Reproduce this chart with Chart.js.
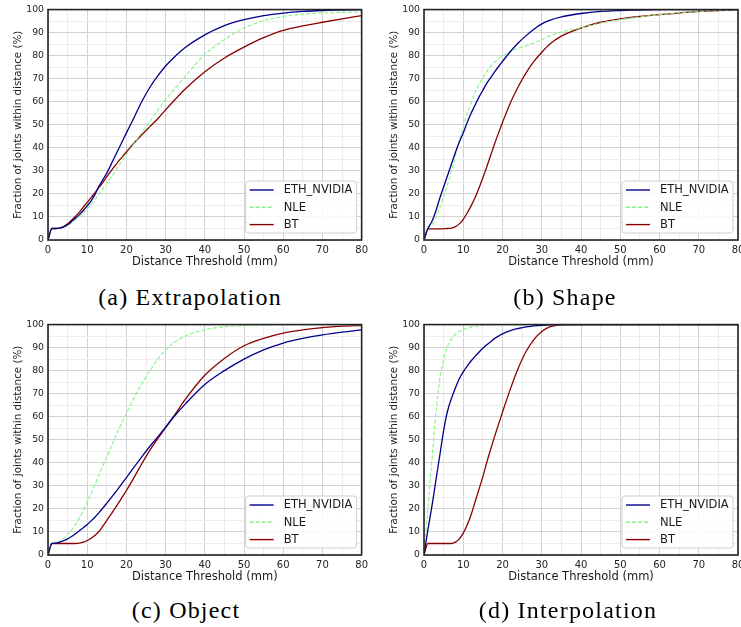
<!DOCTYPE html>
<html>
<head>
<meta charset="utf-8">
<script src="https://cdn.jsdelivr.net/npm/chart.js@4.4.1/dist/chart.umd.min.js"></script>
<style>
  html, body { margin: 0; padding: 0; width: 741px; height: 627px; overflow: hidden; background: #fff; }
  canvas { position: absolute; }
  .cap { position: absolute; font-family: "Liberation Serif", serif; font-size: 24px; line-height: 24px;
         letter-spacing: 1.2px; white-space: nowrap; transform: translateX(-50%); color: #000; }
</style>
</head>
<body>
<canvas id="cA" width="372" height="280" style="left:0;top:0"></canvas>
<canvas id="cB" width="380" height="280" style="left:370px;top:0"></canvas>
<canvas id="cC" width="372" height="280" style="left:0;top:315px"></canvas>
<canvas id="cD" width="380" height="280" style="left:370px;top:315px"></canvas>
<div class="cap" style="left:190px;top:285px">(a) Extrapolation</div>
<div class="cap" style="left:565px;top:285px">(b) Shape</div>
<div class="cap" style="left:186px;top:598px">(c) Object</div>
<div class="cap" style="left:568px;top:598px">(d) Interpolation</div>
<script>
// distance thresholds (mm) shared by every curve
const distances = [0,1,2,3,4,5,6,7,8,9,10,11,12,13,14,15,16,17,18,19,20,22,24,26,28,30,32,35,40,45,50,55,60,65,70,75,80];

// (a) Extrapolation
const ethExtrap = [0,5,5,5.2,5.7,6.6,8,9.5,11,12.8,14.8,17,19.8,23.3,26.2,29,32.5,36,39.5,43,46.5,53.3,60.3,66.3,71.2,75.5,79,83.5,89,93,95.6,97.4,98.5,99.2,99.6,99.8,100];
const nleExtrap = [0,5,5,5.2,5.6,6.4,7.5,8.8,10.2,11.8,13.5,15.5,17.6,19.8,22.2,24.6,27,29.5,32,34.5,37,42,46.8,51.5,56.3,61,65,71,80.5,87,92,95.2,97,98,98.5,98.8,99];
const btExtrap  = [0,5,5,5.2,5.8,7,8.6,10.3,12.1,14.2,16.3,18.4,20.6,22.8,25,27.5,29.8,32,34.2,36.2,38.2,42.2,45.8,49.2,52.6,56.5,60.2,65.5,73,79,83.7,87.8,91,92.9,94.5,96,97.4];

// (b) Shape
const ethShape = [0,5,8,12.5,18,23,28,33,38,42.5,46.5,51,55,58.5,62,65,68,70.5,73,75.3,77.5,81.8,85.5,88.7,91.5,93.8,95.3,96.8,98.3,99.2,99.6,99.8,100,100,100,100,100];
const nleShape = [0,5,6.5,9.5,14,19,24,30,36.5,43,49,55,59.5,64,67.5,70.5,73.2,75.5,77.2,78.7,80,81.8,83.2,84.3,85.5,87,88.5,90.3,92,94.2,95.6,96.8,97.8,98.6,99.2,99.6,100];
const btShape  = [0,4.8,4.8,4.8,4.8,4.9,5,5.2,5.8,7,9,11.7,14.8,18.3,22.5,27,31.8,36.8,41.8,46.5,51,59.5,66.5,72.5,77.5,81.5,85,88.5,92,94.5,96,97,97.8,98.5,99.2,99.6,100];

// (c) Object
const ethObject = [0,5,5.2,5.6,6.2,7,8,9.2,10.5,11.8,13.2,14.8,16.5,18.4,20.4,22.5,24.6,26.8,29,31.3,33.6,38.2,42.8,47.2,51.3,55.5,59.8,65.5,74,80,85,89,92,94,95.5,96.7,97.7];
const nleObject = [0,5,5.3,6,7.2,8.8,10.8,13.2,16,19.3,23,26.8,30.7,34.7,38.8,42.5,46.5,50.5,54.5,58,61.5,68.5,74.5,80,85,89,92,95,97.8,99,99.6,99.8,100,100,100,100,100];
const btObject  = [0,5,5,5,5,5,5,5,5.2,5.6,6.3,7.3,8.6,10.2,12.5,15,17.5,20,22.6,25.3,28,33.8,39.8,45.5,50.5,55.3,60,67.5,78,85.3,90.8,94,96.3,97.7,98.7,99.3,99.6];

// (d) Interpolation
const ethInterp = [0,11,21,32,43,54,62.5,68,72.5,76.5,79.5,82,84.2,86.2,88,89.7,91.2,92.6,94,95,96,97.4,98.3,99,99.4,99.7,99.9,100,100,100,100,100,100,100,100,100,100];
const nleInterp = [0,20,41,61,76,85,90.5,93.8,95.8,97,97.8,98.4,98.9,99.2,99.5,99.7,99.8,99.9,100,100,100,100,100,100,100,100,100,100,100,100,100,100,100,100,100,100,100];
const btInterp  = [0,5,5,5,5,5,5,5,5.6,7,9.5,13,17.5,23,28.5,34,40.2,46,51.5,56.8,62,72,81,88.3,93.5,97,99,99.9,100,100,100,100,100,100,100,100,100];

const seriesNames = ['ETH_NVIDIA', 'NLE', 'BT'];
const seriesColors = ['#00008b', '#86f386', '#8b0000'];
const seriesDash = [[], [4, 2], []];

const FONT = '"DejaVu Sans", sans-serif';

// frame around the plot area + matplotlib-like legend box
const framePlugin = {
  id: 'frame',
  afterDatasetsDraw(chart) {
    const { ctx, chartArea: a } = chart;
    ctx.save();
    ctx.strokeStyle = '#222';
    ctx.lineWidth = 1.6;
    ctx.strokeRect(a.left, a.top, a.right - a.left, a.bottom - a.top);

    const w = 111, h = 52;
    const x = a.right - 5 - w, y = a.bottom - 7 - h;
    ctx.beginPath();
    ctx.roundRect(x, y, w, h, 3);
    ctx.fillStyle = 'rgba(255,255,255,0.85)';
    ctx.fill();
    ctx.strokeStyle = '#d0d0d0';
    ctx.lineWidth = 1;
    ctx.stroke();

    ctx.font = '11.5px ' + FONT;
    ctx.textBaseline = 'middle';
    chart.data.datasets.forEach((ds, i) => {
      const yy = y + 9 + i * 17.3;
      ctx.beginPath();
      ctx.setLineDash(ds.borderDash || []);
      ctx.strokeStyle = ds.borderColor;
      ctx.lineWidth = 1.4;
      ctx.moveTo(x + 4, yy);
      ctx.lineTo(x + 28, yy);
      ctx.stroke();
      ctx.setLineDash([]);
      ctx.fillStyle = '#1a1a1a';
      ctx.fillText(ds.label, x + 38, yy + 0.5);
    });
    ctx.restore();
  }
};

function gridColor(c) {
  return c.tick && c.tick.value % 10 === 0 ? '#d2d2d2' : '#ececec';
}

function makeChart(id, values, padLeft, padRight) {
  const datasets = values.map((vals, i) => ({
    label: seriesNames[i],
    data: distances.map((d, j) => ({ x: d, y: vals[j] })),
    borderColor: seriesColors[i],
    borderDash: seriesDash[i],
    borderWidth: i === 1 ? 1.1 : 1.3,
    pointRadius: 0,
    cubicInterpolationMode: 'monotone',
    fill: false
  }));
  new Chart(document.getElementById(id), {
    type: 'line',
    data: { datasets },
    options: {
      responsive: false,
      animation: false,
      devicePixelRatio: 1,
      layout: { padding: { left: padLeft, top: 8, right: padRight, bottom: 0 } },
      plugins: { legend: { display: false }, tooltip: { enabled: false } },
      scales: {
        x: {
          type: 'linear', min: 0, max: 80,
          afterFit: s => { s.height = 40; },
          border: { display: false },
          grid: { color: gridColor, lineWidth: 1, drawTicks: false },
          ticks: {
            stepSize: 5, padding: 4, color: '#222', maxRotation: 0, autoSkip: false,
            font: { family: FONT, size: 10 },
            callback: v => (v % 10 === 0 ? v : '')
          },
          title: {
            display: true, text: 'Distance Threshold (mm)', color: '#1a1a1a',
            font: { family: FONT, size: 11.5 }, padding: { top: 0, bottom: 11.5 }
          }
        },
        y: {
          min: 0, max: 100,
          afterFit: s => { s.width = 48; },
          border: { display: false },
          grid: { color: gridColor, lineWidth: 1, drawTicks: false },
          ticks: {
            stepSize: 5, padding: 4, color: '#222', autoSkip: false,
            font: { family: FONT, size: 9.3 },
            callback: v => (v % 10 === 0 ? v : '')
          },
          title: {
            display: true, text: 'Fraction of joints within distance (%)', color: '#1a1a1a',
            font: { family: FONT, size: 10.3 }, padding: { top: 12, bottom: 0 }
          }
        }
      }
    },
    plugins: [framePlugin]
  });
}

makeChart('cA', [ethExtrap, nleExtrap, btExtrap], 0, 10);
makeChart('cB', [ethShape, nleShape, btShape], 6, 12);
makeChart('cC', [ethObject, nleObject, btObject], 0, 10);
makeChart('cD', [ethInterp, nleInterp, btInterp], 6, 12);
</script>
</body>
</html>
